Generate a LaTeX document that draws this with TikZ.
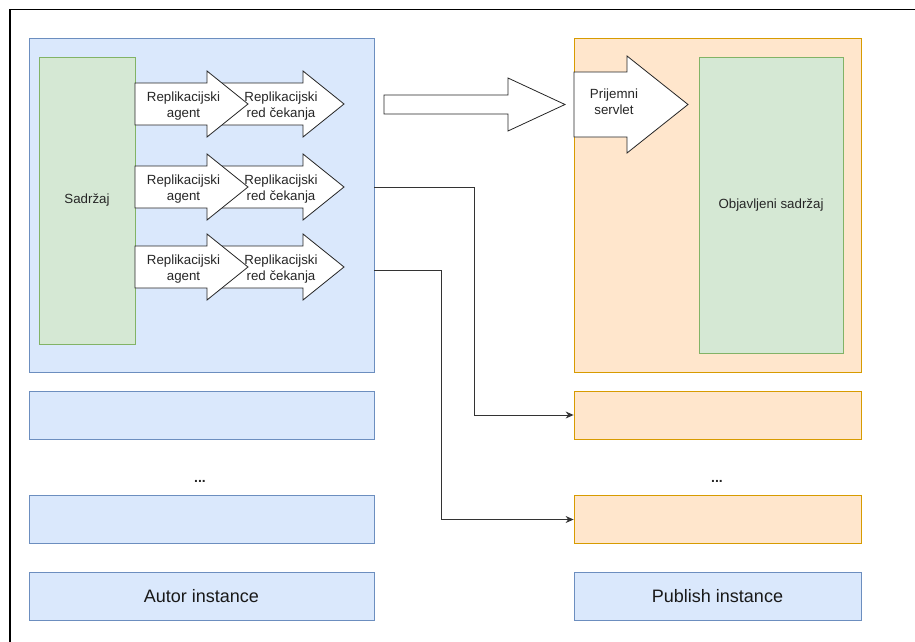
\documentclass[tikz,border=0pt]{standalone}
\usepackage{fontspec}
\setmainfont{Liberation Sans}
\usetikzlibrary{arrows.meta,calc}
\definecolor{blueFill}{HTML}{DAE8FC}
\definecolor{blueLine}{HTML}{6C8EBF}
\definecolor{greenFill}{HTML}{D5E8D4}
\definecolor{greenLine}{HTML}{82B366}
\definecolor{orangeFill}{HTML}{FFE6CC}
\definecolor{orangeLine}{HTML}{D79B00}
% block arrow: start, head base, tip, centre y, body half, head half
\newcommand{\blockarrow}[6]{%
\draw[blockarrow] (#1,#4-#5) -- (#2,#4-#5) -- (#2,#4-#6) -- (#3,#4)
  -- (#2,#4+#6) -- (#2,#4+#5) -- (#1,#4+#5) -- cycle;}

\begin{document}
\begin{tikzpicture}[x=1pt,y=-1pt,
  box/.style={draw, line width=0.8pt, inner sep=0pt},
  bluebox/.style={box, fill=blueFill, draw=blueLine},
  greenbox/.style={box, fill=greenFill, draw=greenLine},
  orangebox/.style={box, fill=orangeFill, draw=orangeLine},
  blockarrow/.style={draw=black!85, fill=white, line width=0.8pt, line join=miter},
  small/.style={font=\fontsize{13.3}{16}\selectfont, align=center, text=black!85},
  big/.style={font=\fontsize{18}{21}\selectfont, text=black!90},
  link/.style={draw=black!80, line width=0.9pt, -{Stealth[length=8pt,width=7pt]}}]
\useasboundingbox (0,0) rectangle (915,642);
\draw[line width=1.3pt] (10,642) -- (10,9.5) -- (915,9.5);

% autor side
\node[bluebox, minimum width=345, minimum height=334] (autor) at (201.5,205) {};
\node[greenbox, small, minimum width=96, minimum height=287] (sadrzaj) at (87,200.5) {Sadržaj};
\node[bluebox, minimum width=345, minimum height=48] (autor2) at (201.5,415) {};
\node[small, font=\fontsize{14}{16}\bfseries] (dotsA) at (200,481) {...};
\node[bluebox, minimum width=345, minimum height=48] (autor3) at (201.5,519.5) {};
\node[bluebox, big, minimum width=345, minimum height=48] (autorlabel) at (201.5,596.5) {Autor instance};

% publish side
\node[orangebox, minimum width=287, minimum height=334] (publish) at (717.5,205) {};
\node[greenbox, small, minimum width=144, minimum height=296] (objavljeni) at (771,205) {Objavljeni sadržaj};
\node[orangebox, minimum width=287, minimum height=48] (pub1) at (717.5,415) {};
\node[small, font=\fontsize{14}{16}\bfseries] (dotsB) at (717,481) {...};
\node[orangebox, minimum width=287, minimum height=48] (pub2) at (717.5,519.5) {};
\node[bluebox, big, minimum width=287, minimum height=48] (publishlabel) at (717.5,596.5) {Publish instance};

% replication arrows
\foreach \yc in {104,187,267}{
  \blockarrow{215}{303}{344}{\yc}{21}{33}
  \blockarrow{135}{207}{248}{\yc}{21}{33}
}
\foreach \yc/\n in {104/1,187/2,267/3}{
  \node[small] (agent\n) at (183.5,\yc+2) {Replikacijski\\agent};
  \node[small] (queue\n) at (281,\yc+2) {Replikacijski\\red čekanja};
}

\blockarrow{384}{508}{565}{104.5}{9.5}{26.5}
\blockarrow{574}{627}{688}{104.5}{32.5}{48.5}
\node[small] (prijemni) at (614,102) {Prijemni\\servlet};

% links
\coordinate (tip2) at (344,187);
\coordinate (tip3) at (344,270);
\draw[link] (autor.east |- tip2) -- ++(100,0) |- (pub1.west);
\draw[link] (autor.east |- tip3) -- ++(67,0) |- (pub2.west);
\end{tikzpicture}
\end{document}
